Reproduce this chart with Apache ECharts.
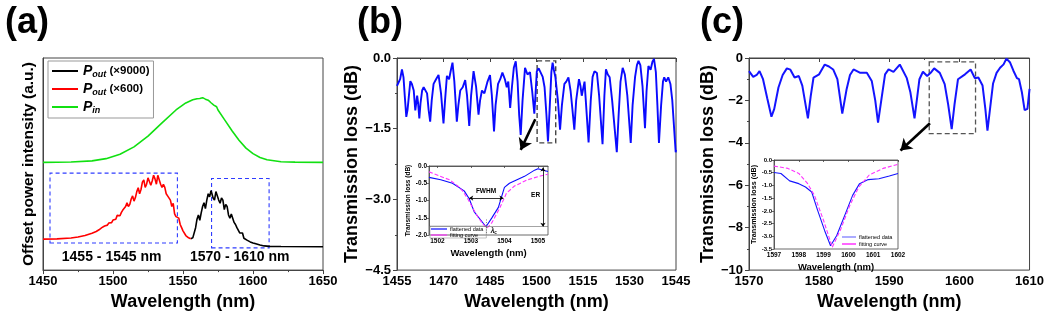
<!DOCTYPE html>
<html><head><meta charset="utf-8">
<script src="https://cdn.jsdelivr.net/npm/echarts@6/dist/echarts.min.js"></script>
<style>html,body{margin:0;padding:0;background:#fff}#c{width:1047px;height:316px}</style>
</head><body><div id="c"></div>
<script>
// ---------- DATA ----------
// (a) offset power spectra (a.u.)
const aBlack = [[1555.5,0.148],[1557,0.152],[1558,0.16],[1559,0.2],[1560,0.24],[1561,0.26],[1562,0.235],[1563,0.27],[1564,0.3],[1565,0.318],[1566,0.29],[1567,0.33],[1568,0.36],[1569,0.345],[1570,0.375],[1570.8,0.38],[1571.5,0.34],[1572.5,0.33],[1573.5,0.37],[1574.5,0.372],[1575.5,0.33],[1576.5,0.315],[1577.5,0.34],[1578.5,0.33],[1579.5,0.285],[1580.5,0.31],[1581.5,0.3],[1582.5,0.26],[1583.5,0.245],[1584.5,0.265],[1585.5,0.26],[1586.5,0.225],[1587.5,0.215],[1588.5,0.2],[1589.5,0.205],[1590.5,0.175],[1591.5,0.17],[1592.5,0.175],[1593.5,0.15],[1594.5,0.148],[1596,0.14],[1597,0.142],[1598,0.133],[1600,0.128],[1602,0.124],[1605,0.118],[1608,0.114],[1612,0.112],[1620,0.111],[1650,0.11]];
const aRed = [[1450,0.146],[1460,0.147],[1470,0.151],[1475,0.156],[1480,0.163],[1485,0.174],[1488,0.182],[1490,0.19],[1492,0.2],[1494,0.208],[1495,0.215],[1496,0.212],[1497,0.222],[1498,0.228],[1499,0.224],[1500,0.236],[1501,0.245],[1502,0.24],[1503,0.258],[1504,0.262],[1505,0.256],[1506,0.272],[1507,0.283],[1508,0.276],[1509,0.3],[1510,0.318],[1511,0.3],[1512,0.31],[1513,0.335],[1514,0.35],[1515,0.325],[1516,0.342],[1517,0.37],[1518,0.388],[1519,0.36],[1520,0.38],[1521,0.415],[1522,0.425],[1523,0.39],[1524,0.405],[1525,0.435],[1526,0.44],[1527,0.4],[1528,0.42],[1529,0.447],[1530,0.43],[1531,0.405],[1532,0.447],[1533,0.44],[1534,0.405],[1535,0.39],[1536,0.405],[1537,0.39],[1538,0.36],[1539,0.35],[1540,0.355],[1541,0.33],[1542,0.3],[1543,0.315],[1544,0.265],[1545,0.252],[1546,0.256],[1547,0.245],[1548,0.215],[1549,0.2],[1550,0.185],[1552,0.163],[1554,0.152],[1555.5,0.148]];
const aGreen = [[1450,0.508],[1470,0.5095],[1485,0.515],[1495,0.5255],[1505,0.546],[1515,0.581],[1525,0.632],[1535,0.694],[1545,0.755],[1552,0.788],[1557,0.803],[1560,0.808],[1561,0.812],[1562,0.809],[1563,0.811],[1564,0.813],[1565,0.808],[1566,0.806],[1568,0.801],[1570,0.789],[1572,0.778],[1574,0.77],[1575,0.755],[1580,0.706],[1585,0.657],[1590,0.612],[1595,0.575],[1600,0.549],[1605,0.531],[1610,0.52],[1620,0.5106],[1630,0.509],[1650,0.508]];
// (b) transmission loss, 1455-1545 nm (dB)
const bMain = [[1455,-0.59],[1455.5,-0.52],[1456,-0.45],[1456.6,-0.24],[1457.1,-0.41],[1457.5,-0.8],[1458,-1.25],[1458.4,-1.1],[1458.8,-0.83],[1459.3,-0.49],[1459.8,-0.55],[1460.4,-0.69],[1460.9,-1.11],[1461.5,-0.8],[1461.8,-0.95],[1462.2,-1.28],[1462.6,-0.95],[1463.1,-0.69],[1463.6,-0.62],[1464.1,-0.59],[1464.7,-0.75],[1465.2,-1.1],[1465.7,-1.35],[1466.2,-0.9],[1466.8,-0.55],[1467.6,-0.45],[1468.4,-0.36],[1469.2,-0.75],[1470,-1.39],[1470.5,-0.9],[1471.1,-0.38],[1471.8,-0.45],[1472.4,-0.25],[1472.9,-0.1],[1473.5,-0.5],[1474.3,-1.35],[1474.8,-1.0],[1475.4,-0.69],[1476.2,-0.62],[1477,-0.47],[1477.6,-0.8],[1478.3,-1.44],[1478.9,-0.8],[1479.7,-0.28],[1480.5,-0.6],[1481.3,-1.2],[1481.8,-0.9],[1482.4,-0.69],[1483.2,-0.75],[1484.2,-0.5],[1485,-0.36],[1485.6,-0.8],[1486.3,-1.56],[1486.8,-1.0],[1487.6,-0.55],[1488.3,-0.45],[1489,-0.31],[1489.8,-0.45],[1490.4,-0.62],[1490.9,-0.5],[1491.5,-1.06],[1492.1,-0.6],[1492.7,-0.2],[1493.3,-0.07],[1493.9,-0.5],[1494.4,-1.2],[1494.9,-1.63],[1495.5,-0.9],[1496.3,-0.21],[1497.1,-0.35],[1497.9,-0.3],[1498.6,-0.7],[1499.3,-1.18],[1499.7,-0.75],[1500.1,-0.28],[1500.7,-0.22],[1501.2,-0.24],[1502,-0.4],[1502.6,-0.62],[1503.2,-1.2],[1503.7,-1.77],[1504.3,-1.0],[1504.8,-0.3],[1505.2,-0.1],[1505.6,-0.25],[1506.1,-0.41],[1506.9,-0.9],[1507.6,-1.52],[1508.2,-1.0],[1509,-0.55],[1509.6,-0.5],[1510.3,-0.41],[1511,-0.7],[1511.6,-1.1],[1512.2,-1.52],[1512.8,-0.9],[1513.7,-0.45],[1514.2,-0.6],[1514.6,-0.8],[1515.5,-0.5],[1516.1,-1.1],[1516.8,-1.79],[1517.5,-0.9],[1518.1,-0.4],[1518.7,-0.28],[1519.5,-0.32],[1520.2,-0.8],[1521.3,-1.83],[1521.9,-0.8],[1522.4,-0.24],[1523,-0.35],[1523.6,-0.41],[1524.4,-0.9],[1525.9,-2.0],[1526.5,-1.2],[1527.1,-0.5],[1527.8,-0.21],[1528.5,-0.35],[1529.3,-0.8],[1530.4,-1.8],[1531,-1.0],[1531.8,-0.4],[1532.4,-0.15],[1532.9,-0.06],[1533.5,-0.15],[1534.2,-0.6],[1535,-1.49],[1535.5,-0.7],[1536.1,-0.17],[1536.8,-0.25],[1537.4,-0.08],[1537.9,-0.02],[1538.5,-0.3],[1539,-1.0],[1539.5,-1.8],[1540.2,-1.0],[1540.8,-0.5],[1541.2,-0.41],[1541.8,-0.5],[1542.5,-0.41],[1543.2,-0.55],[1543.8,-0.9],[1544.4,-1.5],[1544.9,-2.0],[1545,-1.95]];
const bInsetData = [[1501.75,-0.33],[1502.1,-0.4],[1502.45,-0.5],[1502.8,-0.72],[1502.95,-0.95],[1503.1,-1.33],[1503.28,-1.55],[1503.45,-1.76],[1503.62,-1.51],[1503.82,-1.2],[1504.0,-0.62],[1504.15,-0.5],[1504.6,-0.3],[1504.9,-0.12],[1505.0,-0.08],[1505.3,-0.16]];
const bInsetFit = [[1501.75,-0.17],[1502.07,-0.29],[1502.36,-0.4],[1502.61,-0.58],[1502.75,-0.72],[1502.9,-0.94],[1503.14,-1.37],[1503.33,-1.65],[1503.48,-1.8],[1503.62,-1.65],[1503.86,-1.22],[1504.06,-0.79],[1504.3,-0.58],[1504.69,-0.4],[1505.07,-0.29],[1505.3,-0.24]];
// (c) transmission loss, 1570-1610 nm (dB)
const cMain = [[1570,-0.62],[1570.6,-0.89],[1571.1,-0.8],[1571.5,-0.62],[1572,-1.0],[1572.6,-1.9],[1573.2,-2.77],[1573.6,-2.4],[1574.2,-1.39],[1574.8,-0.8],[1575.4,-0.49],[1575.9,-0.55],[1576.5,-0.92],[1577.1,-0.85],[1577.6,-1.3],[1578.4,-2.85],[1578.8,-1.8],[1579.2,-0.92],[1580,-0.77],[1580.8,-0.31],[1581.4,-0.4],[1582,-0.54],[1582.6,-1.0],[1583.3,-2.62],[1583.9,-1.5],[1584.4,-0.8],[1584.9,-0.54],[1585.8,-0.69],[1586.8,-0.7],[1587.5,-1.08],[1588,-2.0],[1588.4,-3.05],[1588.9,-1.9],[1589.4,-0.77],[1589.9,-0.54],[1590.6,-0.65],[1591.5,-0.31],[1592.5,-0.95],[1593,-1.6],[1593.6,-2.85],[1594,-1.8],[1594.3,-1.0],[1594.8,-0.65],[1595.4,-0.85],[1595.9,-0.7],[1596.4,-0.49],[1597.2,-0.7],[1597.9,-1.23],[1598.4,-2.2],[1598.9,-3.35],[1599.3,-2.2],[1599.8,-1.0],[1600.8,-0.77],[1601.6,-0.54],[1602.2,-0.95],[1602.7,-0.92],[1603.3,-1.3],[1603.7,-2.4],[1604,-3.42],[1604.4,-2.3],[1604.8,-1.2],[1605.3,-0.7],[1605.8,-0.46],[1606.3,-0.3],[1606.7,-0.03],[1607.2,-0.2],[1607.7,-0.6],[1608.2,-0.95],[1608.5,-1.0],[1608.9,-1.6],[1609.3,-2.46],[1609.7,-2.4],[1610,-1.46]];
const cInsetData = [[1597,-0.49],[1597.28,-0.53],[1597.63,-0.82],[1598,-0.93],[1598.27,-1.06],[1598.52,-1.26],[1598.76,-1.98],[1599.04,-2.77],[1599.28,-3.37],[1599.53,-2.97],[1599.88,-2.11],[1600.17,-1.39],[1600.45,-0.93],[1600.8,-0.77],[1601.23,-0.74],[1601.65,-0.63],[1602,-0.53]];
const cInsetFit = [[1597,-0.24],[1597.56,-0.33],[1598,-0.53],[1598.35,-0.92],[1598.63,-1.39],[1599,-2.38],[1599.35,-3.43],[1599.7,-2.7],[1600.06,-1.78],[1600.42,-1.06],[1600.84,-0.59],[1601.4,-0.33],[1602,-0.17]];
// tick labels / annotation values
const aXTicks = [1450, 1650, 50];
const bXTicks = [1455, 1545, 15];
const bYTicks = [-4.5, 0, 1.5];
const cXTicks = [1570, 1610, 10];
const cYTicks = [-10, 0, 2];
const bInsetXTicks = [1502, 1503, 1504, 1505];
const cInsetXTicks = [1597, 1598, 1599, 1600, 1601, 1602];
const aBoxes = [[1455, 0.128, 1546, 0.457], [1570.4, 0.105, 1611.5, 0.432]];
const aBandLabels = [['1455 - 1545 nm', 1499, 0.06], ['1570 - 1610 nm', 1590.5, 0.06]];
const bBox = [1500.2, -0.06, 1506.2, -1.8];
const bArrow = [1499.6, -1.3, 1494.9, -1.95];
const cBox = [1595.7, -0.18, 1602.3, -3.57];
const cArrow = [1595.8, -3.08, 1591.6, -4.36];
const fwhm = [1502.95, 1503.97, -0.93];
const er = [1505.15, -0.04, -1.76];
const lambdaC = 1503.45;

// ---------- CHART ----------
const F = '"Liberation Sans", Arial, sans-serif';
const AX = '#444';
const minus = s => String(s).replace('-', '\u2212');
function mainX(grid, t, name) {
  return {gridIndex: grid, type: 'value', min: t[0], max: t[1], interval: t[2],
    name: name, nameLocation: 'middle', nameGap: 17,
    nameTextStyle: {fontFamily: F, fontWeight: 'bold', fontSize: 18, color: '#000'},
    axisLine: {lineStyle: {color: AX, width: 1}}, splitLine: {show: false},
    axisTick: {length: 4, lineStyle: {color: AX}}, minorTick: {show: true, splitNumber: 2, length: 2, lineStyle: {color: AX}},
    axisLabel: {fontFamily: F, fontWeight: 'bold', fontSize: 13, color: '#000', margin: 5, formatter: v => String(v)}};
}
function mainY(grid, t, name, gap, fmt) {
  return {gridIndex: grid, type: 'value', min: t[0], max: t[1], interval: t[2],
    name: name, nameLocation: 'middle', nameGap: gap,
    nameTextStyle: {fontFamily: F, fontWeight: 'bold', fontSize: 18, color: '#000'},
    axisLine: {lineStyle: {color: AX, width: 1}}, splitLine: {show: false},
    axisTick: {length: 4, lineStyle: {color: AX}}, minorTick: {show: true, splitNumber: 2, length: 2, lineStyle: {color: AX}},
    axisLabel: {fontFamily: F, fontWeight: 'bold', fontSize: 13, color: '#000', margin: 6, formatter: fmt}};
}
function insetX(grid, min, max, ticks) {
  return {gridIndex: grid, type: 'value', min: min, max: max,
    name: 'Wavelength (nm)', nameLocation: 'middle', nameGap: 13,
    nameTextStyle: {fontFamily: F, fontWeight: 'bold', fontSize: 9.5, color: '#000'},
    axisLine: {lineStyle: {color: AX, width: 0.8}}, splitLine: {show: false},
    axisTick: {length: 2, customValues: ticks, lineStyle: {color: AX, width: 0.8}},
    axisLabel: {fontFamily: F, fontWeight: 'bold', fontSize: 6.5, color: '#000', margin: 3, customValues: ticks, formatter: v => String(v)}};
}
function insetY(grid, min, max, gap, fs, lfs) {
  return {gridIndex: grid, type: 'value', min: min, max: max, interval: 0.5,
    name: 'Transmission loss (dB)', nameLocation: 'middle', nameGap: gap,
    nameTextStyle: {fontFamily: F, fontWeight: 'bold', fontSize: fs, color: '#000'},
    axisLine: {lineStyle: {color: AX, width: 0.8}}, splitLine: {show: false},
    axisTick: {length: 2, lineStyle: {color: AX, width: 0.8}},
    axisLabel: {fontFamily: F, fontWeight: 'bold', fontSize: lfs, color: '#000', margin: 2, formatter: v => v.toFixed(1)}};
}
const gridStyle = {show: true, borderColor: AX, borderWidth: 1, backgroundColor: 'rgba(0,0,0,0)'};
function textMark(items, fs, extra) {
  return {symbol: 'rect', symbolSize: 1, silent: true, itemStyle: {color: 'rgba(0,0,0,0)'},
    label: Object.assign({show: true, position: 'inside', color: '#000', fontFamily: F, fontWeight: 'bold', fontSize: fs}, extra || {}),
    data: items.map(it => ({coord: [it[1], it[2]], label: {formatter: it[0]}}))};
}
function box(b, color, w, dash) {
  return [{coord: [b[0], b[1]], itemStyle: {color: 'rgba(0,0,0,0)', borderColor: color, borderWidth: w, borderType: dash}}, {coord: [b[2], b[3]]}];
}
function seg(x1, y1, x2, y2, s1, s2, size, ls) {
  return [{coord: [x1, y1], symbol: s1, symbolSize: size, lineStyle: ls}, {coord: [x2, y2], symbol: s2, symbolSize: size}];
}
const lineBase = {type: 'line', showSymbol: false, symbol: 'none', animation: false, z: 3};

const option = {
  animation: false,
  title: [
    {text: '(a)', left: 0, top: 0, textStyle: {fontFamily: F, fontWeight: 'bold', fontSize: 36, color: '#000'}},
    {text: '(b)', left: 352, top: 0, textStyle: {fontFamily: F, fontWeight: 'bold', fontSize: 36, color: '#000'}},
    {text: '(c)', left: 695, top: 0, textStyle: {fontFamily: F, fontWeight: 'bold', fontSize: 36, color: '#000'}}
  ],
  grid: [
    Object.assign({left: 43, top: 58, width: 280, height: 217}, gridStyle),
    Object.assign({left: 397, top: 58, width: 279, height: 217}, gridStyle),
    Object.assign({left: 429, top: 166, width: 119, height: 69}, gridStyle, {borderWidth: 0.8}),
    Object.assign({left: 749, top: 58, width: 281, height: 217}, gridStyle),
    Object.assign({left: 774, top: 160, width: 124, height: 89}, gridStyle, {borderWidth: 0.8})
  ],
  xAxis: [
    mainX(0, aXTicks, 'Wavelength (nm)'),
    mainX(1, bXTicks, 'Wavelength (nm)'),
    insetX(2, 1501.75, 1505.3, bInsetXTicks),
    mainX(3, cXTicks, 'Wavelength (nm)'),
    insetX(4, 1597, 1602, cInsetXTicks)
  ],
  yAxis: [
    Object.assign(mainY(0, [0, 1, 0.5], 'Offset power intensity (a.u.)', 6, v => v), {
      axisLabel: {show: false}, axisTick: {show: false}, minorTick: {show: false},
      nameTextStyle: {fontFamily: F, fontWeight: 'bold', fontSize: 15.5, color: '#000'}}),
    mainY(1, bYTicks, 'Transmission loss (dB)', 31, v => minus(v.toFixed(1))),
    insetY(2, -2, 0, 16, 6.5, 6.5),
    mainY(3, cYTicks, 'Transmission loss (dB)', 28, v => minus(v)),
    insetY(4, -3.5, 0, 15, 7.2, 6)
  ],
  legend: [
    {left: 48, top: 61, orient: 'vertical', icon: 'rect', itemWidth: 26, itemHeight: 2, itemGap: 3,
     borderColor: '#999', borderWidth: 1, padding: [3, 4, 3, 4], selectedMode: false,
     data: ['a9000', 'a600', 'ain'],
     formatter: n => ({a9000: '{p|P}{s|out}{t| (\u00d79000)}', a600: '{p|P}{s|out}{t| (\u00d7600)}', ain: '{p|P}{s|in}'})[n],
     textStyle: {rich: {
       p: {fontFamily: F, fontSize: 14, fontStyle: 'italic', fontWeight: 'bold', color: '#000', lineHeight: 16},
       s: {fontFamily: F, fontSize: 9, fontStyle: 'italic', fontWeight: 'bold', color: '#000', lineHeight: 9, verticalAlign: 'bottom', padding: [5, 0, 0, 0]},
       t: {fontFamily: F, fontSize: 11.5, fontWeight: 'bold', color: '#000', lineHeight: 16}}}},
    {left: 430, top: 226, orient: 'vertical', icon: 'rect', itemWidth: 16, itemHeight: 1.2, itemGap: 0,
     borderColor: '#999', borderWidth: 0.6, padding: [0, 3, 0, 1], selectedMode: false,
     data: ['b-flat', 'b-fit'], formatter: n => n === 'b-flat' ? 'flattened data' : 'fitting curve',
     textStyle: {fontFamily: F, fontSize: 5.5, color: '#000', padding: [0, 0, 0, -2]}},
    {left: 842, top: 234, orient: 'vertical', icon: 'rect', itemWidth: 14, itemHeight: 1.5, itemGap: 1, padding: 0,
     selectedMode: false, data: ['c-flat', 'c-fit'], formatter: n => n === 'c-flat' ? 'flattened data' : 'fitting curve',
     textStyle: {fontFamily: F, fontSize: 5.5, color: '#000', padding: [0, 0, 0, -2]}}
  ],
  series: [
    Object.assign({}, lineBase, {name: 'a9000', xAxisIndex: 0, yAxisIndex: 0, data: aBlack, color: '#000', lineStyle: {color: '#000', width: 1.6}}),
    Object.assign({}, lineBase, {name: 'a600', xAxisIndex: 0, yAxisIndex: 0, data: aRed, color: '#ff0000', lineStyle: {color: '#ff0000', width: 1.6},
      markArea: {silent: true, data: aBoxes.map(b => box(b, '#2f3cff', 1.1, [4, 3]))},
      markPoint: textMark(aBandLabels, 14)}),
    Object.assign({}, lineBase, {name: 'ain', xAxisIndex: 0, yAxisIndex: 0, data: aGreen, color: '#11e011', lineStyle: {color: '#11e011', width: 1.6}}),
    Object.assign({}, lineBase, {name: 'bmain', xAxisIndex: 1, yAxisIndex: 1, data: bMain, color: '#0a0aff', lineStyle: {color: '#0a0aff', width: 1.9},
      markArea: {silent: true, data: [box(bBox, '#444', 1.4, [5, 3])]},
      markLine: {silent: true, animation: false, label: {show: false},
        data: [seg(bArrow[0], bArrow[1], bArrow[2], bArrow[3], 'none', 'arrow', 11, {color: '#000', width: 2.6, type: 'solid'})]}}),
    Object.assign({}, lineBase, {name: 'b-flat', xAxisIndex: 2, yAxisIndex: 2, data: bInsetData, color: '#0a0aff', lineStyle: {color: '#0a0aff', width: 1.1},
      markLine: {silent: true, animation: false, label: {show: false},
        data: [
          seg(fwhm[0], fwhm[2], fwhm[1], fwhm[2], 'arrow', 'arrow', 4, {color: '#000', width: 0.8, type: 'solid'}),
          seg(er[0], er[1], er[0], er[2], 'arrow', 'arrow', 4, {color: '#000', width: 0.8, type: 'solid'}),
          seg(1501.75, er[2], 1505.3, er[2], 'none', 'none', 1, {color: '#666', width: 0.6, type: 'solid'}),
          seg(lambdaC, -1.55, lambdaC, -1.99, 'none', 'none', 1, {color: '#555', width: 0.7, type: [1, 1.5]})
        ]},
      markPoint: textMark([['FWHM', 1503.45, -0.74], ['ER', 1504.93, -0.85]], 6.5)}),
    Object.assign({}, lineBase, {name: 'b-fit', xAxisIndex: 2, yAxisIndex: 2, data: bInsetFit, color: '#ff33ff', lineStyle: {color: '#ff33ff', width: 1.1, type: [4, 2]},
      markPoint: textMark([['{l|\u03bb}{s|c}', 1503.68, -1.9]], 6, {rich: {l: {fontFamily: F, fontSize: 6.5, fontStyle: 'italic', color: '#000'}, s: {fontFamily: F, fontSize: 4.5, color: '#000', verticalAlign: 'bottom'}}})}),
    Object.assign({}, lineBase, {name: 'cmain', xAxisIndex: 3, yAxisIndex: 3, data: cMain, color: '#1414ff', lineStyle: {color: '#1414ff', width: 2},
      markArea: {silent: true, data: [box(cBox, '#555', 1.3, [5, 3])]},
      markLine: {silent: true, animation: false, label: {show: false},
        data: [seg(cArrow[0], cArrow[1], cArrow[2], cArrow[3], 'none', 'arrow', 11, {color: '#000', width: 2.6, type: 'solid'})]}}),
    Object.assign({}, lineBase, {name: 'c-flat', xAxisIndex: 4, yAxisIndex: 4, data: cInsetData, color: '#8f8fff', lineStyle: {color: '#1414ff', width: 1.1}}),
    Object.assign({}, lineBase, {name: 'c-fit', xAxisIndex: 4, yAxisIndex: 4, data: cInsetFit, color: '#ff33ff', lineStyle: {color: '#ff33ff', width: 1.1, type: [4, 2]}})
  ]
};
const chart = echarts.init(document.getElementById('c'));
chart.setOption(option);
</script></body></html>
